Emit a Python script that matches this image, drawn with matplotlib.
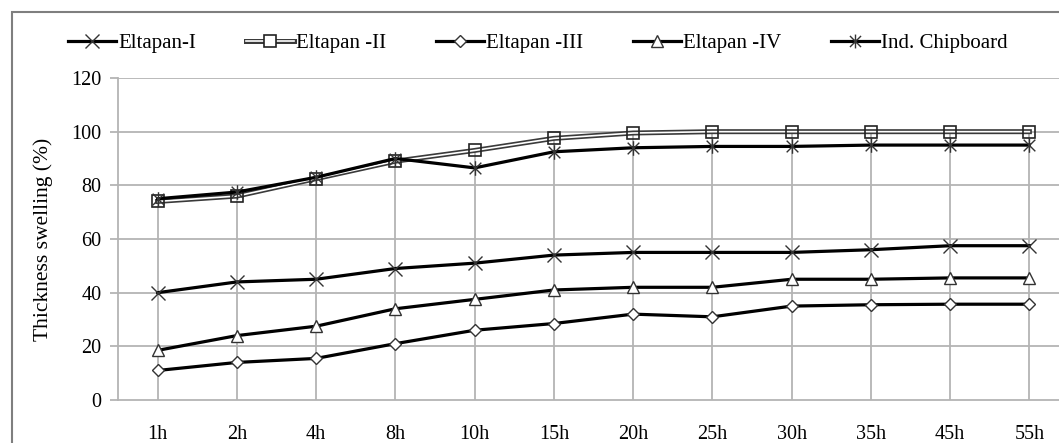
import matplotlib
matplotlib.use("Agg")
import matplotlib.pyplot as plt
from matplotlib.path import Path
from matplotlib.patches import Rectangle
from matplotlib.lines import Line2D
import numpy as np

categories = ["1h", "2h", "4h", "8h", "10h", "15h", "20h", "25h", "30h", "35h", "45h", "55h"]
eltapan_1 = [40, 44, 45, 49, 51, 54, 55, 55, 55, 56, 57.5, 57.5]
eltapan_2 = [74, 76, 82.5, 89, 93, 97.5, 99.5, 100, 100, 100, 100, 100]
eltapan_3 = [11, 14, 15.5, 21, 26, 28.5, 32, 31, 35, 35.5, 35.7, 35.7]
eltapan_4 = [18.5, 24, 27.5, 34, 37.5, 41, 42, 42, 45, 45, 45.5, 45.5]
ind_chip = [75, 77.5, 83, 90, 86.5, 92.5, 94, 94.5, 94.5, 95, 95, 95]
labels = ["Eltapan-I", "Eltapan -II", "Eltapan -III", "Eltapan -IV", "Ind. Chipboard"]
y_ticks = [0, 20, 40, 60, 80, 100, 120]

plt.rcParams["font.family"] = ["Liberation Serif", "DejaVu Serif"]

W, H = 1059, 443
fig = plt.figure(figsize=(W / 100, H / 100), dpi=100)
ax = fig.add_axes([118 / W, 1 - 400 / H, (1069 - 118) / W, (400 - 78) / H])

x = np.arange(len(categories))
grid_c = "#b4b4b4"

# horizontal gridlines
for t in y_ticks[1:]:
    ax.axhline(t, color=grid_c, lw=1.3, zorder=1)

# drop lines
all_series = np.array([eltapan_1, eltapan_2, eltapan_3, eltapan_4, ind_chip])
ax.vlines(x, 0, all_series.max(axis=0), color=grid_c, lw=1.3, zorder=1)

star = Path([(-1, -1), (1, 1), (-1, 1), (1, -1), (0, -1.25), (0, 1.25)],
            [Path.MOVETO, Path.LINETO, Path.MOVETO, Path.LINETO, Path.MOVETO, Path.LINETO])

mec = "#333333"
lw = 2.3
ax.plot(x, eltapan_1, color="black", lw=lw, marker="x", ms=10.5, mec=mec, mew=1.0, zorder=3)
# double line for Eltapan-II
ax.plot(x, eltapan_2, color="#3a3a3a", lw=3.6, zorder=3, solid_joinstyle="round")
ax.plot(x, eltapan_2, color="white", lw=1.2, zorder=3.1, solid_joinstyle="round")
ax.plot(x, eltapan_2, ls="none", marker="s", ms=8.5, mfc="none", mec="#222222", mew=1.2, zorder=3.2)
ax.plot(x, eltapan_3, color="black", lw=lw, marker="D", ms=6.5, mfc="white", mec=mec, mew=1.0, zorder=3)
ax.plot(x, eltapan_4, color="black", lw=lw, marker="^", ms=9, mfc="white", mec=mec, mew=1.0, zorder=3)
ax.plot(x, ind_chip, color="black", lw=lw, marker=star, ms=10.5, mec=mec, mew=1.0, zorder=4)

ax.set_xlim(-0.5, len(categories) - 0.5)
ax.set_ylim(0, 120)
ax.set_yticks(y_ticks)
ax.set_xticks(x)
ax.set_xticklabels(categories, fontsize=14.5)
ax.tick_params(axis="x", length=0, pad=18)
ax.tick_params(axis="y", length=6, width=1.3, color=grid_c, labelsize=14.5, pad=6)
for s in ["top", "right"]:
    ax.spines[s].set_visible(False)
for s in ["left", "bottom"]:
    ax.spines[s].set_color(grid_c)
    ax.spines[s].set_linewidth(1.3)
ax.set_ylabel("Thickness swelling (%)", fontsize=15.5)
ax.yaxis.set_label_coords(-0.068, 0.5)

# legend
handles = [
    Line2D([], [], color="black", lw=lw, marker="x", ms=10, mec=mec, mew=1.0),
    (Line2D([], [], color="#3a3a3a", lw=3.6), Line2D([], [], color="white", lw=1.2),
     Line2D([], [], ls="none", marker="s", ms=8.5, mfc="white", mec="#222222", mew=1.2)),
    Line2D([], [], color="black", lw=lw, marker="D", ms=6.5, mfc="white", mec=mec, mew=1.0),
    Line2D([], [], color="black", lw=lw, marker="^", ms=9, mfc="white", mec=mec, mew=1.0),
    Line2D([], [], color="black", lw=lw, marker=star, ms=10, mec=mec, mew=1.0),
]
fig.legend(handles, labels, loc="center left", bbox_to_anchor=(68 / W, 1 - 43 / H),
           ncol=5, frameon=False, fontsize=15, handlelength=2.3, handletextpad=0.1,
           columnspacing=2.4, borderaxespad=0, borderpad=0)

# outer frame
fig.patches.append(Rectangle((12 / W, -0.1), 1.2, 1 - 12 / H + 0.1, transform=fig.transFigure,
                             fill=False, ec="#7f7f7f", lw=1.5))

fig.savefig("out.png", dpi=100)
